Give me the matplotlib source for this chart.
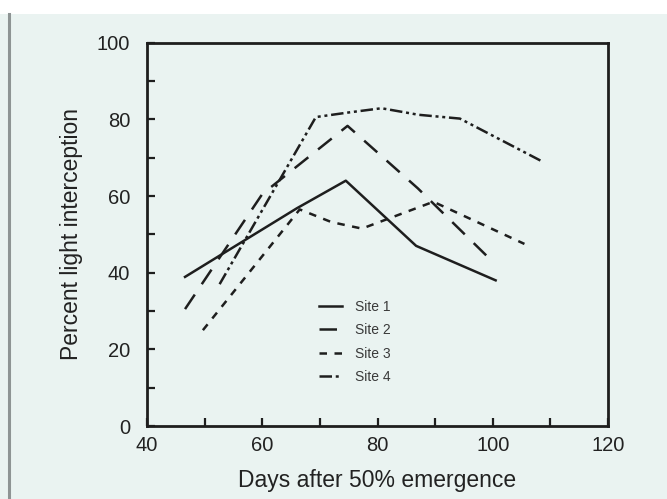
import matplotlib
matplotlib.use("Agg")
import matplotlib.pyplot as plt
from matplotlib.lines import Line2D

plt.rcParams['font.family'] = ['Liberation Sans', 'DejaVu Sans']

site1_x = [46.6, 53.2, 66.0, 74.5, 86.7, 100.5]
site1_y = [38.9, 45.0, 56.8, 64.0, 47.0, 38.0]

site2_x = [46.6, 60.0, 74.8, 87.0, 100.3]
site2_y = [30.5, 60.5, 78.3, 62.0, 42.4]

site3_x = [49.7, 66.5, 72.0, 77.3, 89.7, 105.5]
site3_y = [25.0, 56.5, 53.2, 51.5, 58.5, 47.5]

site4_x = [52.6, 69.3, 75.0, 80.7, 87.1, 94.3, 108.6]
site4_y = [37.0, 80.6, 81.8, 82.9, 81.2, 80.2, 69.0]

labels = ["Site 1", "Site 2", "Site 3", "Site 4"]
xticks = [40, 60, 80, 100, 120]
yticks = [0, 20, 40, 60, 80, 100]

bg = "#eaf3f1"
ink = "#1e1e1e"
txt = "#222222"

fig = plt.figure(figsize=(6.67, 4.99), dpi=100)
fig.patch.set_facecolor(bg)
# white strip at top and grey frame line at left
fig.add_artist(plt.Rectangle((0, 1 - 14 / 499), 1, 14 / 499, transform=fig.transFigure,
                             facecolor="white", edgecolor="none"))
fig.add_artist(Line2D([8.5 / 667, 8.5 / 667], [0, 1 - 14 / 499], transform=fig.transFigure,
                      color="#8e9494", lw=2.2))

ax = fig.add_axes([147 / 667, 73 / 499, 461 / 667, 383.3 / 499])
ax.set_facecolor(bg)

lw = 1.8
ax.plot(site1_x, site1_y, color=ink, lw=lw, linestyle="-", label=labels[0])
ax.plot(site2_x, site2_y, color=ink, lw=lw, linestyle=(0, (7, 5)), label=labels[1])
ax.plot(site3_x, site3_y, color=ink, lw=lw, linestyle=(0, (3, 3)), label=labels[2])
ax.plot(site4_x, site4_y, color=ink, lw=lw, linestyle=(0, (5, 1.5, 1.2, 1.5, 1.2, 1.5)), label=labels[3])

ax.set_xlim(40, 120)
ax.set_ylim(0, 100)
ax.set_xticks(xticks)
ax.set_yticks(yticks)
ax.set_xticks([50, 70, 90, 110], minor=True)
ax.set_yticks([10, 30, 50, 70, 90], minor=True)
ax.tick_params(which="both", direction="in", length=6, width=1.6, color=ink,
               labelsize=14.5, labelcolor=txt)
ax.tick_params(axis="y", pad=12)
ax.tick_params(axis="x", pad=7)
for s in ax.spines.values():
    s.set_linewidth(2.0)
    s.set_color(ink)

ax.set_xlabel("Days after 50% emergence", fontsize=16.5, color=txt, labelpad=10)
ax.set_ylabel("Percent light interception", fontsize=16.5, color=txt, labelpad=10)

leg = ax.legend(loc="upper left", bbox_to_anchor=(0.345, 0.362), frameon=False,
                fontsize=10, handlelength=1.7, handletextpad=0.9, labelspacing=0.68,
                labelcolor="#3a3a3a")

fig.savefig("out.png", dpi=100, facecolor=fig.get_facecolor())
